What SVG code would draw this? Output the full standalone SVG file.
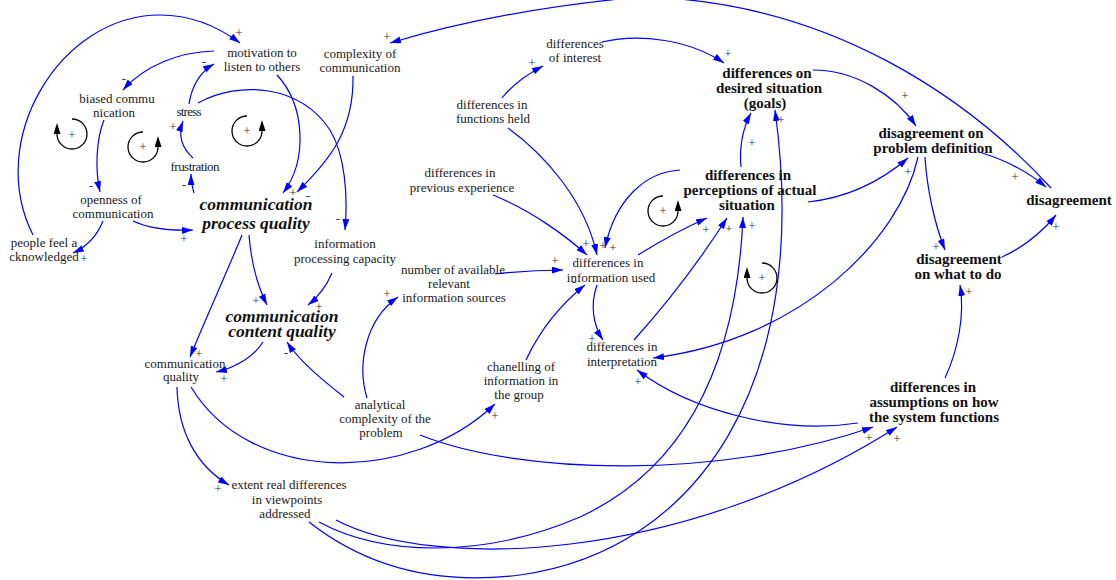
<svg xmlns="http://www.w3.org/2000/svg" width="1116" height="580" viewBox="0 0 1116 580">
<defs>
<marker id="ah" markerWidth="12" markerHeight="8" refX="11" refY="3.5" orient="auto" markerUnits="userSpaceOnUse"><path d="M0,0 L11,3.5 L0,7 z" fill="#0000ff"/></marker>
<marker id="lh" markerWidth="12" markerHeight="8" refX="0" refY="3.5" orient="auto" markerUnits="userSpaceOnUse"><path d="M0,0 L11,3.5 L0,7 z" fill="#000"/></marker>
<style>
.t{font-family:"Liberation Serif","Times New Roman",serif;font-size:13px;fill:#1a1a1a;text-anchor:middle}
.b{font-family:"Liberation Serif","Times New Roman",serif;font-size:15px;font-weight:bold;fill:#111;text-anchor:middle}
.bi{font-family:"Liberation Serif","Times New Roman",serif;font-size:17.5px;font-weight:bold;font-style:italic;fill:#111;text-anchor:middle}
.s{font-family:"Liberation Serif","Times New Roman",serif;font-size:13px;fill:#333;text-anchor:middle}
.c{fill:none;stroke:#0000ff;stroke-width:1.2;marker-end:url(#ah)}
.lp{fill:none;stroke:#000;stroke-width:1.3;marker-end:url(#lh)}
</style>
</defs>
<rect width="1116" height="580" fill="#fff"/>

<g id="connectors">
<path class="c" d="M33,235 C-15,140 60,15 160,15 C195,15 220,28 240,43"/>
<path class="c" d="M214,51 C180,52 145,65 123,90"/>
<path class="c" d="M189,104 C192,85 200,72 214,64"/>
<path class="c" d="M193,158 C182,148 178,135 183,121"/>
<path class="c" d="M194,193 C192,186 191,180 191,174"/>
<path class="c" d="M198,103 C240,80 300,85 330,130 C345,155 348,195 345,230"/>
<path class="c" d="M277,75 C305,105 308,160 283,193"/>
<path class="c" d="M353,76 C354,130 330,160 297,192"/>
<path class="c" d="M104,120 C96,140 95,170 100,192"/>
<path class="c" d="M103,221 C97,236 88,246 73,253"/>
<path class="c" d="M133,221 C150,229 170,231 193,230"/>
<path class="c" d="M242,235 C230,265 205,320 190,357"/>
<path class="c" d="M249,235 C251,260 257,285 267,305"/>
<path class="c" d="M332,273 C326,287 318,297 308,305"/>
<path class="c" d="M263,342 C255,355 238,367 216,372"/>
<path class="c" d="M344,397 C325,382 300,362 287,342"/>
<path class="c" d="M367,398 C357,365 365,320 398,297"/>
<path class="c" d="M495,274 Q530,270 563,270"/>
<path class="c" d="M191,387 C250,485 410,485 495,404"/>
<path class="c" d="M420,435 C520,475 720,480 873,427"/>
<path class="c" d="M858,423 C780,435 690,410 637,370"/>
<path class="c" d="M336,520 C430,570 680,565 897,427"/>
<path class="c" d="M319,522 C380,555 480,560 580,517 C660,480 735,400 743,217"/>
<path class="c" d="M309,522 C370,570 440,585 520,575 C700,550 812,380 775,110"/>
<path class="c" d="M597,285 C590,305 593,325 603,340"/>
<path class="c" d="M634,340 C670,300 700,260 727,218"/>
<path class="c" d="M638,255 Q675,232 707,218"/>
<path class="c" d="M680,170 C645,172 615,200 605,248"/>
<path class="c" d="M493,195 C530,210 565,235 587,255"/>
<path class="c" d="M508,128 C545,155 585,200 597,255"/>
<path class="c" d="M502,98 C512,85 528,74 543,66"/>
<path class="c" d="M602,42 C640,33 690,40 724,63"/>
<path class="c" d="M813,70 C855,70 895,95 916,126"/>
<path class="c" d="M741,167 C739,145 743,128 751,113"/>
<path class="c" d="M808,202 C845,198 880,182 908,158"/>
<path class="c" d="M982,153 C1005,160 1028,172 1046,187"/>
<path class="c" d="M925,157 C927,190 935,225 945,250"/>
<path class="c" d="M1002,257 C1022,248 1042,232 1056,215"/>
<path class="c" d="M1051,188 C970,100 830,0 640,-3 C530,7 450,25 390,43"/>
<path class="c" d="M945,378 C958,350 965,315 960,285"/>
<path class="c" d="M918,157 C900,240 800,340 653,358"/>
<path class="c" d="M177,387 C178,430 195,465 229,485"/>
<path class="c" d="M526,360 C540,330 560,305 585,285"/>
</g>

<g id="loops">
<path class="lp" d="M72,119 A15,15 0 1,1 57,134"/>
<path class="lp" d="M143,132 A15,15 0 1,0 158,147"/>
<path class="lp" d="M247,116 A15,15 0 1,0 262,131"/>
<path class="lp" d="M663,196 A15,15 0 1,0 678,211"/>
<path class="lp" d="M762,263 A15,15 0 1,1 747,278"/>
<text class="s" x="72" y="139">+</text>
<text class="s" x="143" y="151">+</text>
<text class="s" x="247" y="135">+</text>
<text class="s" x="663" y="215">+</text>
<text class="s" x="762" y="282">+</text>
</g>

<g id="polarities">
<text class="s" x="239" y="37">+</text>
<text class="s" x="204" y="66">-</text>
<text class="s" x="124" y="83">-</text>
<text class="s" x="173" y="131">+</text>
<text class="s" x="184" y="189">-</text>
<text class="s" x="91" y="190">-</text>
<text class="s" x="293" y="197">+</text>
<text class="s" x="308" y="200">-</text>
<text class="s" x="338" y="223">-</text>
<text class="s" x="184" y="243">+</text>
<text class="s" x="84" y="263">+</text>
<text class="s" x="387" y="41">+</text>
<text class="s" x="532" y="67">+</text>
<text class="s" x="586" y="248">+</text>
<text class="s" x="603" y="250">+</text>
<text class="s" x="613" y="252">+</text>
<text class="s" x="555" y="265">+</text>
<text class="s" x="574" y="286">-</text>
<text class="s" x="387" y="298">+</text>
<text class="s" x="728" y="58">+</text>
<text class="s" x="905" y="100">+</text>
<text class="s" x="781" y="124">+</text>
<text class="s" x="752" y="147">+</text>
<text class="s" x="908" y="176">+</text>
<text class="s" x="1015" y="181">+</text>
<text class="s" x="1056" y="231">+</text>
<text class="s" x="936" y="251">+</text>
<text class="s" x="969" y="296">+</text>
<text class="s" x="706" y="234">+</text>
<text class="s" x="729" y="233">+</text>
<text class="s" x="752" y="230">+</text>
<text class="s" x="256" y="305">+</text>
<text class="s" x="319" y="311">+</text>
<text class="s" x="199" y="358">+</text>
<text class="s" x="224" y="383">+</text>
<text class="s" x="286" y="357">-</text>
<text class="s" x="218" y="493">+</text>
<text class="s" x="592" y="343">+</text>
<text class="s" x="638" y="386">+</text>
<text class="s" x="495" y="420">+</text>
<text class="s" x="869" y="442">+</text>
<text class="s" x="897" y="443">+</text>
</g>

<g id="motivation"><text class="t"><tspan x="262" y="57">motivation to</tspan><tspan x="262" y="71">listen to others</tspan></text></g>
<g id="complexity-communication"><text class="t"><tspan x="360" y="58">complexity of</tspan><tspan x="360" y="72">communication</tspan></text></g>
<g id="differences-interest"><text class="t"><tspan x="575" y="48">differences</tspan><tspan x="575" y="62">of interest</tspan></text></g>
<g id="biased"><text class="t"><tspan x="117" y="103">biased commu</tspan><tspan x="114" y="117">nication</tspan></text></g>
<g id="stress"><text class="t" x="189" y="116" textLength="25" lengthAdjust="spacing">stress</text></g>
<g id="frustration"><text class="t" x="195" y="171" textLength="49" lengthAdjust="spacing">frustration</text></g>
<g id="openness"><text class="t"><tspan x="111" y="204">openness of</tspan><tspan x="113" y="218">communication</tspan></text></g>
<g id="people"><text class="t"><tspan x="44" y="247">people feel a</tspan><tspan x="44" y="261">cknowledged</tspan></text></g>
<g id="cpq"><text class="bi"><tspan x="256" y="210">communication</tspan><tspan x="256" y="229">process quality</tspan></text></g>
<g id="ipc"><text class="t"><tspan x="345" y="248">information</tspan><tspan x="345" y="263">processing capacity</tspan></text></g>
<g id="ccq"><text class="bi"><tspan x="282" y="322">communication</tspan><tspan x="282" y="337">content quality</tspan></text></g>
<g id="cq"><text class="t"><tspan x="185" y="368">communication</tspan><tspan x="181" y="381">quality</tspan></text></g>
<g id="number-sources"><text class="t"><tspan x="453" y="274">number of available</tspan><tspan x="449" y="288">relevant</tspan><tspan x="454" y="302">information sources</tspan></text></g>
<g id="info-used"><text class="t"><tspan x="608" y="267">differences in</tspan><tspan x="611" y="282">information used</tspan></text></g>
<g id="prev-exp"><text class="t"><tspan x="460" y="177">differences in</tspan><tspan x="462" y="192">previous experience</tspan></text></g>
<g id="functions"><text class="t"><tspan x="492" y="109">differences in</tspan><tspan x="493" y="123">functions held</tspan></text></g>
<g id="goals"><text class="b"><tspan x="767" y="78">differences on</tspan><tspan x="769" y="93">desired situation</tspan><tspan x="765" y="108">(goals)</tspan></text></g>
<g id="perceptions"><text class="b"><tspan x="748" y="180">differences in</tspan><tspan x="750" y="195">perceptions of actual</tspan><tspan x="747" y="210">situation</tspan></text></g>
<g id="dpd"><text class="b"><tspan x="931" y="138">disagreement on</tspan><tspan x="933" y="153">problem definition</tspan></text></g>
<g id="disagreement"><text class="b" x="1069" y="205">disagreement</text></g>
<g id="what-to-do"><text class="b"><tspan x="959" y="264">disagreement</tspan><tspan x="958" y="279">on what to do</tspan></text></g>
<g id="interpretation"><text class="t"><tspan x="622" y="351">differences in</tspan><tspan x="622" y="366">interpretation</tspan></text></g>
<g id="chanelling"><text class="t"><tspan x="521" y="371">chanelling of</tspan><tspan x="521" y="385">information in</tspan><tspan x="519" y="399">the group</tspan></text></g>
<g id="analytical"><text class="t"><tspan x="380" y="409">analytical</tspan><tspan x="385" y="423">complexity of the</tspan><tspan x="381" y="437">problem</tspan></text></g>
<g id="assumptions"><text class="b"><tspan x="933" y="392">differences in</tspan><tspan x="934" y="407">assumptions on how</tspan><tspan x="934" y="422">the system functions</tspan></text></g>
<g id="extent"><text class="t"><tspan x="289" y="489">extent real differences</tspan><tspan x="287" y="504">in viewpoints</tspan><tspan x="285" y="518">addressed</tspan></text></g>
</svg>
